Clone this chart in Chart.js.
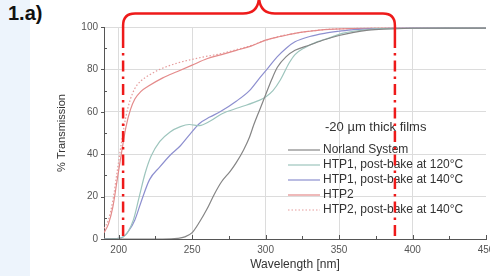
<!DOCTYPE html>
<html>
<head>
<meta charset="utf-8">
<script src="https://cdn.jsdelivr.net/npm/chart.js@4.4.0/dist/chart.umd.min.js"></script>
<style>
  html, body { margin: 0; padding: 0; background: #fff; }
  #wrap { position: relative; width: 490px; height: 276px; overflow: hidden; }
  #strip { position: absolute; left: 0; top: 0; width: 30px; height: 276px; background: #edf4fc; }
  #lbl { position: absolute; left: 8px; top: 2px; font: bold 20px "Liberation Sans", Arial, sans-serif; color: #111; }
  canvas { position: absolute; left: 0; top: 0; }
</style>
</head>
<body>
<div id="wrap">
  <div id="strip"></div>
  <div id="lbl">1.a)</div>
  <canvas id="myChart" width="490" height="276"></canvas>
</div>
<script>
const FONT = '"Liberation Sans", Arial, sans-serif';

// wavelength ticks / transmission ticks
const xTicks = [200, 250, 300, 350, 400, 450];
const xMinor = [225, 275, 325, 375, 425];
const yTicks = [0, 20, 40, 60, 80, 100];
const yMinor = [10, 30, 50, 70, 90];

const legendTitle = '-20 µm thick films';
const seriesNames = [
  'Norland System',
  'HTP1, post-bake at 120°C',
  'HTP1, post-bake at 140°C',
  'HTP2',
  'HTP2, post-bake at 140°C'
];

const norlandNm = [190, 230, 240, 245, 250, 255, 260, 265, 270, 276, 280, 285, 289, 292, 296, 300, 304, 308, 314, 320, 330, 340, 350, 360, 370, 380, 400, 425, 450];
const norlandT  = [0, 0, 0.3, 1, 3, 8, 14, 21, 27, 32, 36, 42, 48, 54, 61, 68, 75, 81, 86, 89, 91.5, 94, 96, 97.5, 98.5, 99, 99.4, 99.5, 99.5];

const htp1aNm = [190, 200, 203, 206, 210, 214, 218, 222, 228, 235, 242, 248, 255, 262, 270, 282, 296, 300, 305, 310, 316, 320, 326, 335, 344, 352, 360, 370, 380, 400, 425, 450];
const htp1aT  = [0, 0.3, 1, 3, 9, 20, 31, 39, 46, 50.5, 53, 54, 53.5, 55.5, 59, 62, 65.5, 67, 70, 75, 83, 87, 90, 93, 95, 97, 98, 98.8, 99.2, 99.4, 99.5, 99.5];

const htp1bNm = [190, 200, 203, 207, 211, 215, 221, 228, 235, 242, 248, 255, 262, 269, 280, 289, 296, 302, 308, 314, 320, 330, 340, 350, 360, 380, 400, 450];
const htp1bT  = [0, 0.3, 1, 4, 9, 17, 28, 34, 39.5, 44, 49, 54.5, 57.5, 60, 65, 70, 76, 81, 86, 90, 93, 95.5, 97, 98, 98.8, 99.3, 99.5, 99.5];

const htp2Nm = [190, 193, 196, 199, 202, 205, 208, 211, 215, 220, 230, 240, 250, 260, 270, 280, 290, 300, 310, 320, 330, 340, 360, 400, 450];
const htp2T  = [3, 7, 15, 28, 41, 53, 61, 66, 69.5, 72, 76, 79, 82, 85, 87, 89, 91, 93.8, 95.5, 97, 98, 98.8, 99.3, 99.5, 99.5];

const htp2bNm = [190, 193, 196, 199, 202, 205, 208, 211, 215, 220, 228, 240, 255, 270, 280, 290, 300, 310, 320, 330, 340, 360, 400, 450];
const htp2bT  = [5, 9, 18, 32, 46, 58, 66, 71, 74.5, 77, 80, 83, 85.5, 87.5, 89.3, 91.2, 93.8, 95.7, 97, 98, 98.8, 99.3, 99.5, 99.5];

// transparent window marked in red
const windowNm = [203, 388];

const colors = ['#858585', '#9dc5bd', '#8d8fcf', '#e48a8a', '#e59c9c'];
const dashes = [[], [], [], [], [1.5, 2]];

const toXY = (xs, ys) => xs.map((x, i) => ({ x: x, y: ys[i] }));
const allData = [
  toXY(norlandNm, norlandT),
  toXY(htp1aNm, htp1aT),
  toXY(htp1bNm, htp1bT),
  toXY(htp2Nm, htp2T),
  toXY(htp2bNm, htp2bT)
];

const datasets = allData.map((d, i) => ({
  label: seriesNames[i],
  data: d,
  borderColor: colors[i],
  borderWidth: 1.2,
  borderDash: dashes[i],
  pointRadius: 0,
  fill: false,
  cubicInterpolationMode: 'monotone'
}));

const extras = {
  id: 'extras',
  afterDraw(chart) {
    const c = chart.ctx;
    const xs = chart.scales.x, ys = chart.scales.y;
    const ca = chart.chartArea;

    // inward tick marks
    c.save();
    c.strokeStyle = '#555';
    c.lineWidth = 1;
    c.beginPath();
    xTicks.forEach(v => { const p = Math.round(xs.getPixelForValue(v)) + 0.5; c.moveTo(p, ca.bottom); c.lineTo(p, ca.bottom - 4); });
    xMinor.forEach(v => { const p = Math.round(xs.getPixelForValue(v)) + 0.5; c.moveTo(p, ca.bottom); c.lineTo(p, ca.bottom - 3); });
    yTicks.forEach(v => { const p = Math.round(ys.getPixelForValue(v)) + 0.5; c.moveTo(ca.left - 3, p); c.lineTo(ca.left, p); });
    yMinor.forEach(v => { const p = Math.round(ys.getPixelForValue(v)) + 0.5; c.moveTo(ca.left, p); c.lineTo(ca.left + 3, p); });
    c.stroke();
    c.restore();

    // legend
    c.save();
    c.fillStyle = '#333';
    c.textBaseline = 'middle';
    c.font = '13px ' + FONT;
    c.fillText(legendTitle, 325, 127);
    c.font = '12px ' + FONT;
    seriesNames.forEach((name, i) => {
      const y = 150 + i * 15;
      c.strokeStyle = colors[i];
      c.lineWidth = 1.2;
      c.setLineDash(dashes[i]);
      c.beginPath();
      c.moveTo(288, y);
      c.lineTo(320, y);
      c.stroke();
      c.setLineDash([]);
      c.fillText(name, 323, y);
    });
    c.restore();

    // red window: dash-dot lines and brace
    const x1 = xs.getPixelForValue(windowNm[0]);
    const x2 = xs.getPixelForValue(windowNm[1]);
    const mid = (x1 + x2) / 2;
    const yb = 13.5, yEnd = 27;
    c.save();
    c.strokeStyle = '#ee1a1a';
    c.lineWidth = 2.5;
    c.setLineDash([11, 5, 2.5, 5]);
    [x1, x2].forEach(x => {
      c.beginPath();
      c.moveTo(x, yEnd + 10);
      c.lineTo(x, ca.bottom);
      c.stroke();
    });
    c.setLineDash([]);
    c.beginPath();
    c.moveTo(x1, yEnd + 10);
    c.lineTo(x1, yb + 12);
    c.quadraticCurveTo(x1, yb, x1 + 12, yb);
    c.lineTo(mid - 16, yb);
    c.quadraticCurveTo(mid, yb, mid, -4);
    c.quadraticCurveTo(mid, yb, mid + 16, yb);
    c.lineTo(x2 - 12, yb);
    c.quadraticCurveTo(x2, yb, x2, yb + 12);
    c.lineTo(x2, yEnd + 10);
    c.stroke();
    c.restore();
  }
};

const ctx = document.getElementById('myChart');
const myChart = new Chart(ctx, {
  type: 'line',
  data: { datasets: datasets },
  options: {
    responsive: false,
    animation: false,
    layout: { padding: { top: 27, right: 4, left: 0, bottom: 0 } },
    plugins: { legend: { display: false }, tooltip: { enabled: false } },
    scales: {
      x: {
        type: 'linear',
        min: 190, max: 450,
        afterBuildTicks: s => { s.ticks = xTicks.map(v => ({ value: v })); },
        afterFit: s => { s.height = 37; s.paddingLeft = 0; s.paddingRight = 0; },
        grid: {
          color: c => (c.tick && c.tick.value === 450) ? 'rgba(0,0,0,0)' : '#dcdcdc',
          drawTicks: false
        },
        border: { color: '#555' },
        ticks: { padding: 5, color: '#555', maxRotation: 0, font: { size: 10, family: FONT } },
        title: { display: true, text: 'Wavelength [nm]', color: '#333', font: { size: 12, family: FONT }, padding: { top: 0, bottom: 4 } }
      },
      y: {
        min: 0, max: 100,
        afterBuildTicks: s => { s.ticks = yTicks.map(v => ({ value: v })); },
        afterFit: s => { s.width = 104; s.paddingTop = 0; s.paddingBottom = 0; },
        grid: { color: '#dcdcdc', drawTicks: false },
        border: { color: '#555' },
        ticks: { padding: 6, color: '#555', font: { size: 10, family: FONT } },
        title: { display: true, text: '% Transmission', color: '#333', font: { size: 11, family: FONT }, padding: { top: 55, bottom: 0 } }
      }
    }
  },
  plugins: [extras]
});
</script>
</body>
</html>
